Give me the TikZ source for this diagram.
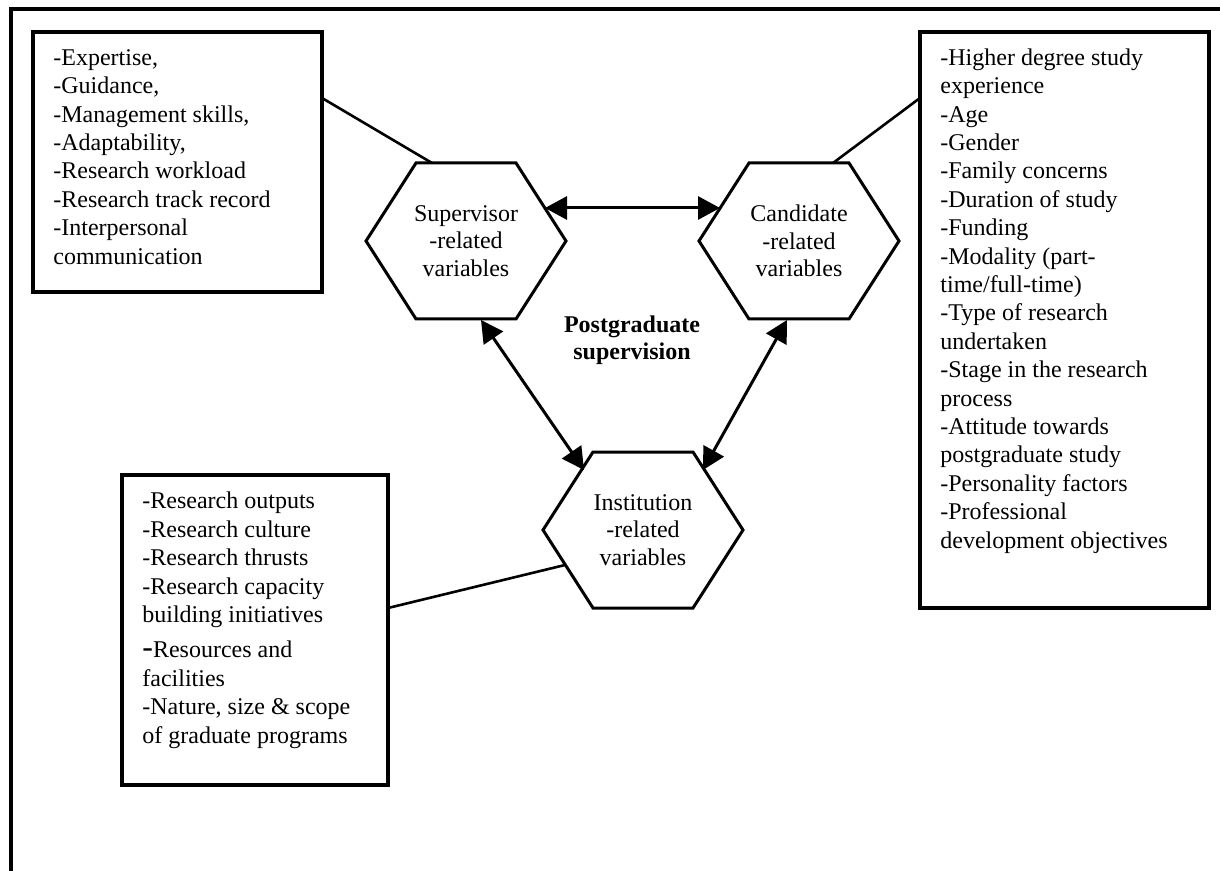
\documentclass[tikz,border=0pt]{standalone}
\usepackage{fontspec}
\setmainfont{Liberation Serif}
\usetikzlibrary{arrows.meta,calc,fit}
\begin{document}
\begin{tikzpicture}[x=0.5pt,y=-0.5pt,
  frame/.style={line width=2pt, line join=miter},
  boxline/.style={draw, line width=1.7pt, inner sep=0pt, outer sep=0pt},
  boxtext/.style={anchor=north west, inner sep=0pt, align=left, font=\fontsize{12}{14.2}\selectfont},
  hexnode/.style={minimum width=100pt, minimum height=78pt, inner sep=0pt, outer sep=0pt, align=center, font=\fontsize{12}{13.8}\selectfont},
  hexline/.style={line width=1.5pt, line join=miter},
  link/.style={line width=1.3pt},
  biarrow/.style={line width=1.5pt, {Triangle[length=11pt,width=11.5pt]}-{Triangle[length=11pt,width=11.5pt]}}
]
\useasboundingbox (0,0) rectangle (1220,871);
% outer frame (top and left)
\draw[frame] (1220,9.5) -- (11.3,9.5) -- (11.3,871);

% boxes
\node[boxline, fit={(33,32) (322,292)}] (supbox) {};
\node[boxtext] (suptext) at (53,45.1) {\strut -Expertise,\\ -Guidance,\\ -Management skills,\\ -Adaptability,\\ -Research workload\\ -Research track record\\ -Interpersonal\\ communication};

\node[boxline, fit={(920,32) (1209,608)}] (candbox) {};
\node[boxtext] (candtext) at (940,45.1) {\strut -Higher degree study\\ experience\\ -Age\\ -Gender\\ -Family concerns\\ -Duration of study\\ -Funding\\ -Modality (part-\\ time/full-time)\\ -Type of research\\ undertaken\\ -Stage in the research\\ process\\ -Attitude towards\\ postgraduate study\\ -Personality factors\\ -Professional\\ development objectives};

\node[boxline, fit={(122,475) (388,785)}] (instbox) {};
\node[boxtext] (insttext) at (142,488.7) {\strut -Research outputs\\ -Research culture\\ -Research thrusts\\ -Research capacity\\ building initiatives\\[3.5pt] {\fontsize{16}{14.2}\selectfont -}Resources and\\ facilities\\ -Nature, size \& scope\\ of graduate programs};

% hexagons
\node[hexnode] (sup) at (466,241) {Supervisor\\-related\\variables};
\node[hexnode] (cand) at (799,241) {Candidate\\-related\\variables};
\node[hexnode] (inst) at (643,530) {Institution\\-related\\variables};
\foreach \n in {sup,cand,inst}
  \draw[hexline] (\n.west) -- ($(\n.north west)+(50,0)$) -- ($(\n.north east)-(50,0)$) -- (\n.east) -- ($(\n.south east)-(50,0)$) -- ($(\n.south west)+(50,0)$) -- cycle;

\node[font=\bfseries\fontsize{12}{13.5}\selectfont, align=center] (pg) at (632,340) {Postgraduate\\supervision};

% arrow end points on hexagon borders
\coordinate (supE) at ($(sup.center)+(79,-33)$);
\coordinate (candW) at ($(cand.center)+(-79,-33)$);
\coordinate (supS) at ($(sup.center)+(15,79)$);
\coordinate (instNW) at ($(inst.center)+(-59,-60)$);
\coordinate (candS) at ($(cand.center)+(-12,79)$);
\coordinate (instNE) at ($(inst.center)+(60,-60)$);

\draw[biarrow] (supE) -- (candW);
\draw[biarrow] (supS) -- (instNW);
\draw[biarrow] (candS) -- (instNE);

% links from boxes to hexagons
\coordinate (supT) at ($(sup.center)+(-34,-78)$);
\coordinate (candT) at ($(cand.center)+(34,-78)$);
\coordinate (instL) at ($(inst.center)+(-78,35)$);
\coordinate (supboxE) at ($(supbox.north east)+(0,66)$);
\coordinate (candboxW) at ($(candbox.north west)+(0,66)$);
\coordinate (instboxE) at ($(instbox.north east)+(0,133)$);
\draw[link] (supboxE) -- (supT);
\draw[link] (candboxW) -- (candT);
\draw[link] (instL) -- (instboxE);
\end{tikzpicture}
\end{document}
